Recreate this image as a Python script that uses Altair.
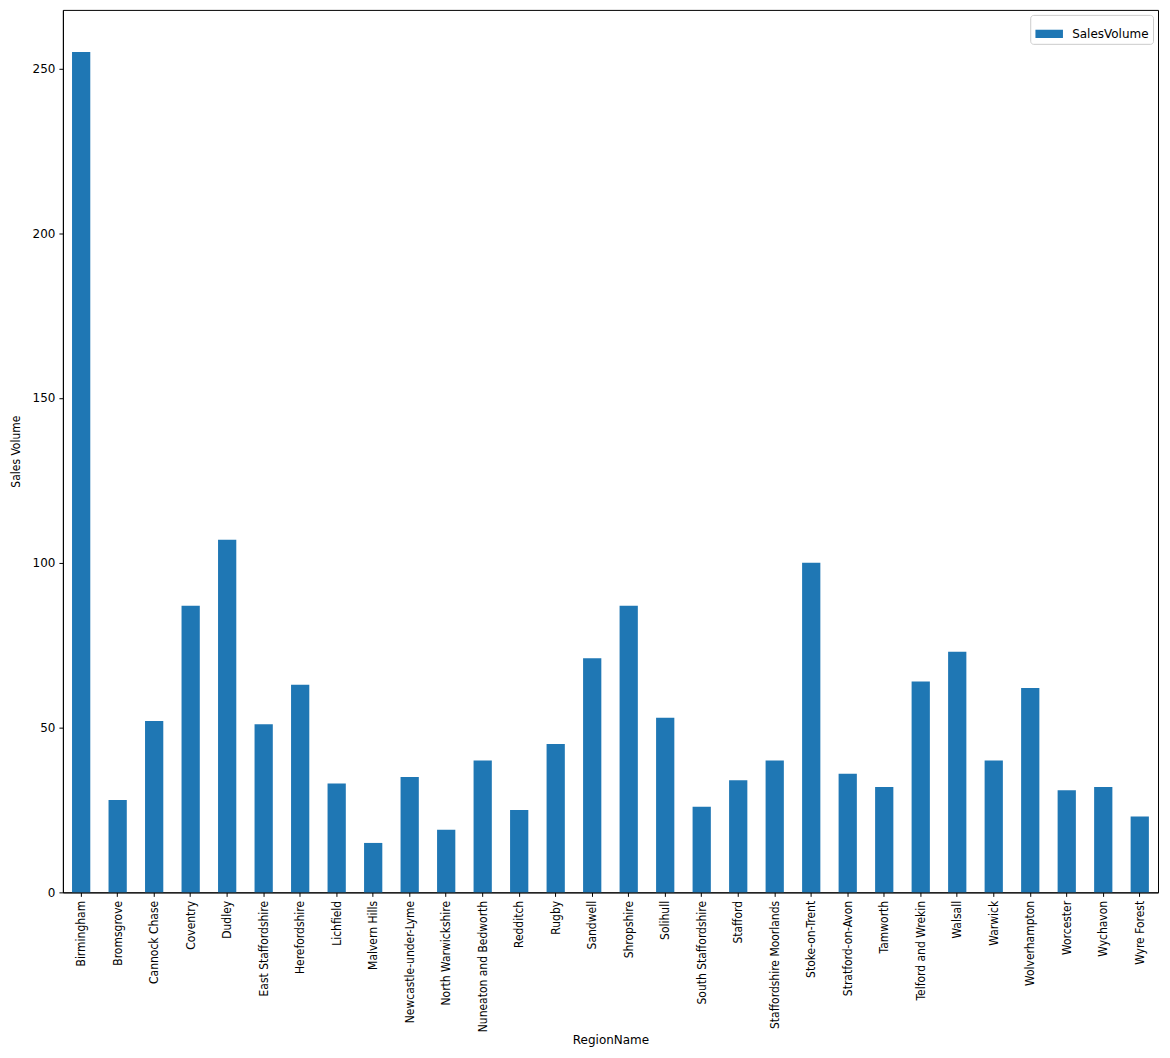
import altair as alt
import pandas as pd

regions = ["Birmingham", "Bromsgrove", "Cannock Chase", "Coventry", "Dudley",
           "East Staffordshire", "Herefordshire", "Lichfield", "Malvern Hills",
           "Newcastle-under-Lyme", "North Warwickshire", "Nuneaton and Bedworth",
           "Redditch", "Rugby", "Sandwell", "Shropshire", "Solihull",
           "South Staffordshire", "Stafford", "Staffordshire Moorlands",
           "Stoke-on-Trent", "Stratford-on-Avon", "Tamworth", "Telford and Wrekin",
           "Walsall", "Warwick", "Wolverhampton", "Worcester", "Wychavon", "Wyre Forest"]
sales = [255, 28, 52, 87, 107, 51, 63, 33, 15, 35, 19, 40, 25, 45, 71, 87, 53,
         26, 34, 40, 100, 36, 32, 64, 73, 40, 62, 31, 32, 23]
y_ticks = [0, 50, 100, 150, 200, 250]

df = pd.DataFrame({"RegionName": regions, "SalesVolume": sales, "series": ["SalesVolume"] * len(regions)})

cond = "DejaVu Sans Condensed, Liberation Sans Narrow, DejaVu Sans"

chart = alt.Chart(df).mark_bar(color="#1f77b4").encode(
    x=alt.X("RegionName:N", sort=regions,
            scale=alt.Scale(paddingInner=0.5, paddingOuter=0.25),
            axis=alt.Axis(title="RegionName", labelAngle=270, labelFont=cond,
                          labelFontSize=12, labelColor="#000", titleFont="DejaVu Sans",
                          titleFontSize=12, titleFontWeight="normal", titleColor="#000",
                          titlePadding=3, domainColor="#000", tickColor="#000",
                          tickSize=4, labelPadding=4)),
    y=alt.Y("SalesVolume:Q", scale=alt.Scale(domain=[0, 267.75], nice=False, zero=True),
            axis=alt.Axis(title="Sales Volume", values=y_ticks, grid=False,
                          labelFont="DejaVu Sans", labelFontSize=12, labelColor="#000",
                          titleFont=cond, titleFontSize=12, titleFontWeight="normal",
                          titleColor="#000", titlePadding=10, domainColor="#000",
                          tickColor="#000", tickSize=4, labelPadding=4)),
    color=alt.Color("series:N", scale=alt.Scale(range=["#1f77b4"]),
                    legend=alt.Legend(title=None, orient="top-right", offset=5,
                                      symbolType="M-1,-0.3H1V0.3H-1Z", symbolSize=760,
                                      labelFont="DejaVu Sans", labelFontSize=12,
                                      labelColor="#000", strokeColor="#ccc",
                                      fillColor="white", padding=4, cornerRadius=3,
                                      labelOffset=8))
).properties(
    width=1097, height=884,
    autosize=alt.AutoSizeParams(type="none"),
    padding={"left": 55, "top": 1, "right": 4, "bottom": 157}
).configure(background="white").configure_view(stroke="#000", strokeWidth=1)

chart.save("out.html", embed_options={"renderer": "svg", "actions": False})
